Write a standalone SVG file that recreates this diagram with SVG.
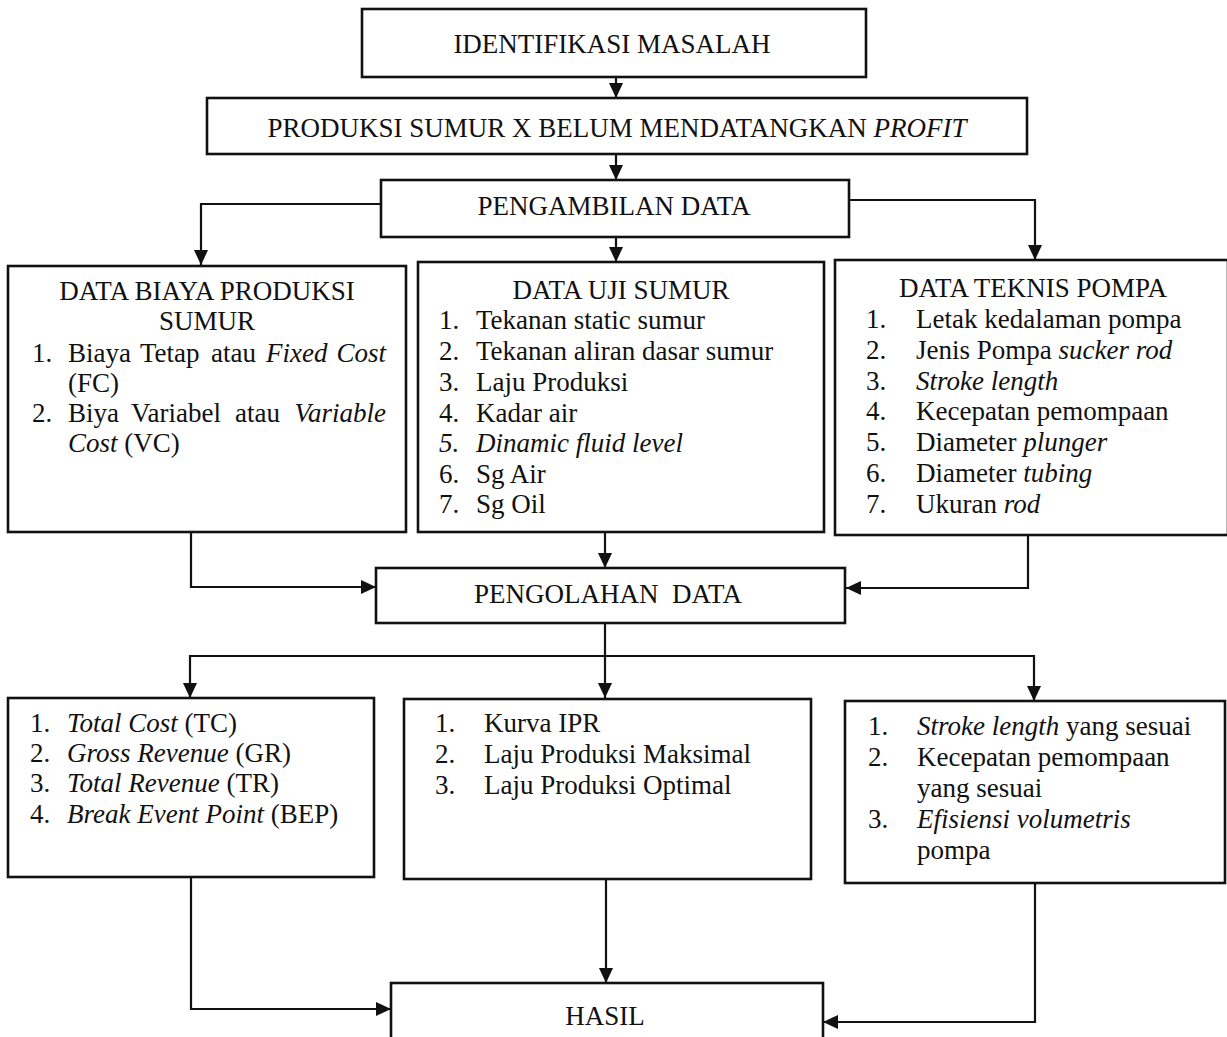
<svg xmlns="http://www.w3.org/2000/svg" width="1227" height="1037" viewBox="0 0 1227 1037">
<defs>
<marker id="ah" markerUnits="userSpaceOnUse" markerWidth="16" markerHeight="16" viewBox="0 0 16 16" refX="15" refY="8" orient="auto">
<path d="M0,1 L15,8 L0,15 Z" fill="#111"/>
</marker>
<style>
.box{fill:#fff;stroke:#111;stroke-width:2.6}
.ln{fill:none;stroke:#111;stroke-width:2.2;marker-end:url(#ah)}
.ln0{fill:none;stroke:#111;stroke-width:2.2}
text{font-family:"Liberation Serif","Times New Roman",serif;font-size:27px;fill:#111}
.c{text-anchor:middle}
.i{font-style:italic}
</style>
</defs>
<rect width="1227" height="1037" fill="#fff"/>
<g id="connectors">
<path class="ln" d="M616,77 V98"/>
<path class="ln" d="M616,154 V180"/>
<path class="ln" d="M381,204 H201 V265"/>
<path class="ln" d="M849,200 H1035 V260"/>
<path class="ln" d="M616,237 V262"/>
<path class="ln" d="M191,532 V587 H376"/>
<path class="ln" d="M605,532 V568"/>
<path class="ln" d="M1028,535 V588 H846"/>
<path class="ln" d="M605,623 V698"/>
<path class="ln" d="M605,656 H190 V698"/>
<path class="ln" d="M605,656 H1034 V701"/>
<path class="ln" d="M191,877 V1009 H391"/>
<path class="ln" d="M606,879 V983"/>
<path class="ln" d="M1035,883 V1022 H823"/>
</g>
<g id="identifikasi">
<rect class="box" x="362" y="9" width="504" height="68"/>
<text class="c" x="612" y="53">IDENTIFIKASI MASALAH</text>
</g>
<g id="produksi">
<rect class="box" x="207" y="98" width="820" height="56"/>
<text class="c" x="617" y="137">PRODUKSI SUMUR X BELUM MENDATANGKAN <tspan class="i">PROFIT</tspan></text>
</g>
<g id="pengambilan">
<rect class="box" x="381" y="180" width="468" height="57"/>
<text class="c" x="614" y="215">PENGAMBILAN DATA</text>
</g>
<g id="biaya">
<rect class="box" x="8" y="266" width="398" height="266"/>
<text class="c" x="207" y="300">DATA BIAYA PRODUKSI</text>
<text class="c" x="207" y="330">SUMUR</text>
<text x="32" y="362">1.</text>
<text y="362"><tspan x="68">Biaya</tspan><tspan x="140">Tetap</tspan><tspan x="211">atau</tspan><tspan class="i" x="266">Fixed</tspan></text>
<text class="i" x="386" y="362" text-anchor="end">Cost</text>
<text x="68" y="392">(FC)</text>
<text x="32" y="422">2.</text>
<text y="422"><tspan x="68">Biya</tspan><tspan x="131">Variabel</tspan><tspan x="235">atau</tspan></text>
<text class="i" x="386" y="422" text-anchor="end">Variable</text>
<text x="68" y="452"><tspan class="i">Cost</tspan> (VC)</text>
</g>
<g id="uji">
<rect class="box" x="418" y="262" width="406" height="270"/>
<text class="c" x="621" y="299">DATA UJI SUMUR</text>
<text x="439" y="329">1.</text><text x="476" y="329">Tekanan static sumur</text>
<text x="439" y="360">2.</text><text x="476" y="360">Tekanan aliran dasar sumur</text>
<text x="439" y="391">3.</text><text x="476" y="391">Laju Produksi</text>
<text x="439" y="422">4.</text><text x="476" y="422">Kadar air</text>
<text class="i" x="439" y="452">5.</text><text class="i" x="476" y="452">Dinamic fluid level</text>
<text x="439" y="483">6.</text><text x="476" y="483">Sg Air</text>
<text x="439" y="513">7.</text><text x="476" y="513">Sg Oil</text>
</g>
<g id="teknis">
<rect class="box" x="835" y="260" width="393" height="275"/>
<text class="c" x="1033" y="297">DATA TEKNIS POMPA</text>
<text x="866" y="328">1.</text><text x="916" y="328">Letak kedalaman pompa</text>
<text x="866" y="359">2.</text><text x="916" y="359">Jenis Pompa <tspan class="i">sucker rod</tspan></text>
<text x="866" y="390">3.</text><text class="i" x="916" y="390">Stroke length</text>
<text x="866" y="420">4.</text><text x="916" y="420">Kecepatan pemompaan</text>
<text x="866" y="451">5.</text><text x="916" y="451">Diameter <tspan class="i">plunger</tspan></text>
<text x="866" y="482">6.</text><text x="916" y="482">Diameter <tspan class="i">tubing</tspan></text>
<text x="866" y="513">7.</text><text x="916" y="513">Ukuran <tspan class="i">rod</tspan></text>
</g>
<g id="pengolahan">
<rect class="box" x="376" y="568" width="469" height="55"/>
<text class="c" x="608" y="603" xml:space="preserve">PENGOLAHAN  DATA</text>
</g>
<g id="hasil-ekonomi">
<rect class="box" x="8" y="698" width="366" height="179"/>
<text x="30" y="732">1.</text><text x="67" y="732"><tspan class="i">Total Cost</tspan> (TC)</text>
<text x="30" y="762">2.</text><text x="67" y="762"><tspan class="i">Gross Revenue</tspan> (GR)</text>
<text x="30" y="792">3.</text><text x="67" y="792"><tspan class="i">Total Revenue</tspan> (TR)</text>
<text x="30" y="823">4.</text><text x="67" y="823"><tspan class="i">Break Event Point</tspan> (BEP)</text>
</g>
<g id="hasil-produksi">
<rect class="box" x="404" y="699" width="407" height="180"/>
<text x="435" y="732">1.</text><text x="484" y="732">Kurva IPR</text>
<text x="435" y="763">2.</text><text x="484" y="763">Laju Produksi Maksimal</text>
<text x="435" y="794">3.</text><text x="484" y="794">Laju Produksi Optimal</text>
</g>
<g id="hasil-pompa">
<rect class="box" x="845" y="701" width="380" height="182"/>
<text x="868" y="735">1.</text><text x="917" y="735"><tspan class="i">Stroke length</tspan> yang sesuai</text>
<text x="868" y="766">2.</text><text x="917" y="766">Kecepatan pemompaan</text>
<text x="917" y="797">yang sesuai</text>
<text x="868" y="828">3.</text><text class="i" x="917" y="828">Efisiensi volumetris</text>
<text x="917" y="859">pompa</text>
</g>
<g id="hasil">
<rect class="box" x="391" y="983" width="432" height="70"/>
<text class="c" x="605" y="1025">HASIL</text>
</g>
</svg>
